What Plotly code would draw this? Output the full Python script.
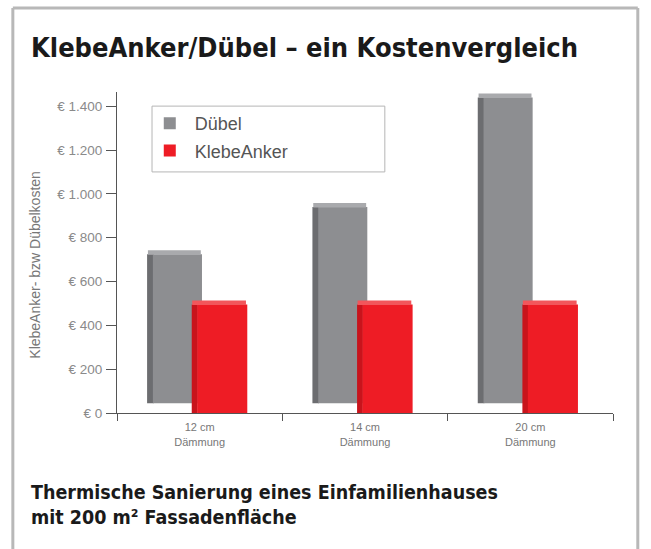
import plotly.graph_objects as go

categories = ["12 cm<br>Dämmung", "14 cm<br>Dämmung", "20 cm<br>Dämmung"]
duebel = [725, 940, 1440]
klebeanker = [495, 495, 495]
tick_values = [0, 200, 400, 600, 800, 1000, 1200, 1400]
tick_labels = ["€ 0", "€ 200", "€ 400", "€ 600", "€ 800", "€ 1.000", "€ 1.200", "€ 1.400"]

depth = 45  # visual depth lift for the rear (gray) series
cap = 20    # thickness of the lighter top face

fig = go.Figure()
fig.add_trace(go.Bar(x=categories, y=[v - depth for v in duebel], base=depth,
                     offset=-0.318, width=0.04, marker=dict(color="#6c6d70", line_width=0),
                     showlegend=False, hoverinfo="skip"))
fig.add_trace(go.Bar(x=categories, y=[v - depth for v in duebel], base=depth, name="Dübel",
                     legendgroup="a",
                     offset=-0.283, width=0.297, marker=dict(color="#8d8e91", line_width=0)))
fig.add_trace(go.Bar(x=categories, y=[cap] * len(duebel), base=[v - 2 for v in duebel],
                     offset=-0.313, width=0.32, marker=dict(color="#a9aaad", line_width=0),
                     showlegend=False, hoverinfo="skip"))
fig.add_trace(go.Bar(x=categories, y=klebeanker, offset=-0.048, width=0.035,
                     marker=dict(color="#c8141c", line_width=0), showlegend=False, hoverinfo="skip"))
fig.add_trace(go.Bar(x=categories, y=klebeanker, name="KlebeAnker", legendgroup="b",
                     offset=-0.015, width=0.303, marker=dict(color="#ee1c25", line_width=0)))
fig.add_trace(go.Bar(x=categories, y=[cap] * len(klebeanker), base=[v - 2 for v in klebeanker],
                     offset=-0.045, width=0.325, marker=dict(color="#f2565b", line_width=0),
                     showlegend=False, hoverinfo="skip"))

font_fam = "Liberation Sans Narrow, DejaVu Sans Condensed, Arial Narrow, Liberation Sans, sans-serif"
frame = dict(color="#b8b8b8", width=3)

fig.update_layout(
    width=651, height=549,
    margin=dict(l=117, r=38, t=92, b=136),
    paper_bgcolor="white", plot_bgcolor="white",
    barmode="overlay",
    font=dict(family="Liberation Sans, Arial, sans-serif", color="#777777"),
    showlegend=True,
    legend=dict(x=0.056, y=0.9595, xanchor="left", yanchor="top",
                borderwidth=0, bgcolor="rgba(0,0,0,0)",
                font=dict(size=18, color="#555555"), traceorder="grouped",
                tracegroupgap=1, itemwidth=40),
    xaxis=dict(showline=True, linecolor="#555555", linewidth=1,
               ticks="outside", tickson="boundaries", ticklen=7, tickcolor="#555555",
               tickfont=dict(size=11, color="#777777"), showgrid=False, ticklabelstandoff=4),
    yaxis=dict(range=[0, 1465], tickvals=tick_values, ticktext=tick_labels,
               showline=True, linecolor="#555555", linewidth=1,
               ticks="outside", ticklen=10, tickcolor="#555555", ticklabelstandoff=1,
               tickfont=dict(size=13.5, color="#8a8a8a"), showgrid=False, zeroline=False),
    shapes=[
        dict(type="line", xref="paper", yref="paper", x0=-0.210, x1=1.050, y0=1.262, y1=1.262,
             line=frame, layer="above"),
        dict(type="line", xref="paper", yref="paper", x0=-0.210, x1=-0.210, y0=-0.45, y1=1.262,
             line=frame, layer="above"),
        dict(type="line", xref="paper", yref="paper", x0=1.050, x1=1.050, y0=-0.45, y1=1.262,
             line=frame, layer="above"),
        dict(type="rect", xref="paper", yref="paper",
             x0=0.0706, x1=0.540, y0=0.751, y1=0.956,
             line=dict(color="#b5b5b5", width=1), fillcolor="rgba(0,0,0,0)"),
    ],
    annotations=[
        dict(text="<b>KlebeAnker/Dübel – ein Kostenvergleich</b>", xref="paper", yref="paper",
             x=-0.178, y=1.140, xanchor="left", yanchor="middle", showarrow=False,
             font=dict(size=27, color="#1a1a1a", family=font_fam)),
        dict(text="<b>Thermische Sanierung eines Einfamilienhauses<br>mit 200 m² Fassadenfläche</b>",
             xref="paper", yref="paper", x=-0.178, y=-0.2056, xanchor="left", yanchor="top",
             align="left", showarrow=False,
             font=dict(size=19.5, color="#1a1a1a", family=font_fam)),
        dict(text="KlebeAnker- bzw Dübelkosten", xref="paper", yref="paper",
             x=-0.166, y=0.461, xanchor="center", yanchor="middle", textangle=-90,
             showarrow=False, font=dict(size=14, color="#777777")),
    ],
)
fig.write_html("out.html")
